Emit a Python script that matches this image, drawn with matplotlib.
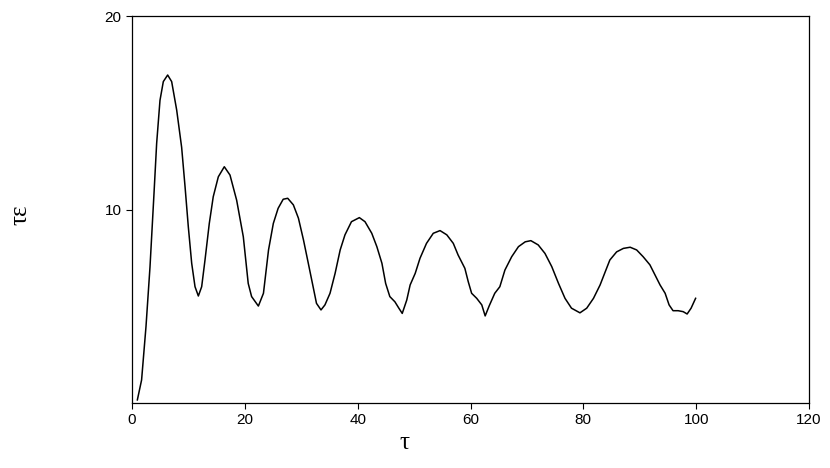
import numpy as np
import matplotlib
matplotlib.use("Agg")
import matplotlib.pyplot as plt

# values
tau = [0.95, 1.7, 2.48, 3.19, 3.9, 4.37, 4.96, 5.55, 6.32, 7.03,
       7.92, 8.8, 9.4, 9.98, 10.58, 11.17, 11.76, 12.35, 12.94, 13.7,
       14.4, 15.3, 16.36, 17.37, 18.55, 19.73, 20.6, 21.2, 22.4, 23.3,
       24.2, 25.05, 25.9, 26.8, 27.6, 28.6, 29.5, 30.4, 31.25, 32.1,
       32.7, 33.5, 34.2, 35.1, 36.0, 36.9, 37.75, 38.9, 40.3, 41.3,
       42.5, 43.4, 44.3, 44.96, 45.7, 46.6, 47.3, 47.9, 48.7, 49.3,
       50.2, 51.05, 52.2, 53.4, 54.6, 55.8, 56.95, 57.8, 59.0, 59.6,
       60.2, 61.1, 62.0, 62.6, 63.3, 64.3, 65.2, 66.1, 67.3, 68.5,
       69.7, 70.7, 72.0, 73.2, 74.4, 75.6, 76.75, 77.9, 79.4, 80.6,
       81.8, 82.97, 84.0, 84.7, 85.9, 87.1, 88.3, 89.45, 90.6, 91.8,
       92.7, 93.6, 94.5, 95.2, 95.9, 96.8, 97.7, 98.4, 99.1, 99.9]
tau_eps = [0.16, 1.19, 3.95, 7.03, 10.83, 13.42, 15.64, 16.61, 16.95, 16.61,
           15.14, 13.21, 11.19, 9.11, 7.22, 6.01, 5.53, 6.01, 7.39, 9.28,
           10.66, 11.69, 12.21, 11.78, 10.48, 8.59, 6.18, 5.5, 5.01, 5.67,
           7.91, 9.28, 10.06, 10.53, 10.58, 10.24, 9.55, 8.42, 7.22, 6.01,
           5.15, 4.81, 5.07, 5.67, 6.7, 7.91, 8.69, 9.37, 9.58, 9.37,
           8.77, 8.08, 7.22, 6.18, 5.5, 5.23, 4.9, 4.63, 5.32, 6.1,
           6.7, 7.48, 8.25, 8.77, 8.91, 8.69, 8.25, 7.65, 6.96, 6.27,
           5.67, 5.41, 5.07, 4.5, 5.01, 5.67, 6.01, 6.87, 7.56, 8.08,
           8.33, 8.39, 8.17, 7.73, 7.05, 6.18, 5.41, 4.9, 4.66, 4.9,
           5.41, 6.1, 6.87, 7.39, 7.81, 7.99, 8.05, 7.91, 7.56, 7.14,
           6.62, 6.1, 5.67, 5.07, 4.77, 4.77, 4.72, 4.6, 4.9, 5.41]

x_ticks = [0, 20, 40, 60, 80, 100, 120]
y_ticks = [10, 20]

plt.rcParams["font.family"] = ["Liberation Sans", "DejaVu Sans"]

fig = plt.figure(figsize=(8.3, 4.68), dpi=100)
ax = fig.add_axes([132 / 830, 1 - 403 / 468, 677 / 830, 387 / 468])

ax.plot(tau, tau_eps, color="black", linewidth=1.1,
        solid_joinstyle="round")

ax.set_xlim(0, 120)
ax.set_ylim(0, 20)
ax.set_xticks(x_ticks)
ax.set_yticks(y_ticks)
ax.tick_params(direction="out", length=4, width=0.8, labelsize=11)

for s in ax.spines.values():
    s.set_linewidth(0.9)

serif = ["Liberation Serif", "DejaVu Serif"]
ax.set_xlabel("τ", family=serif, fontsize=18)
ax.xaxis.set_label_coords(0.403, -0.075)
ax.set_ylabel("τε", family=serif, fontsize=18)
ax.yaxis.set_label_coords(-0.148, 0.486)

fig.savefig("out.png", dpi=100)
